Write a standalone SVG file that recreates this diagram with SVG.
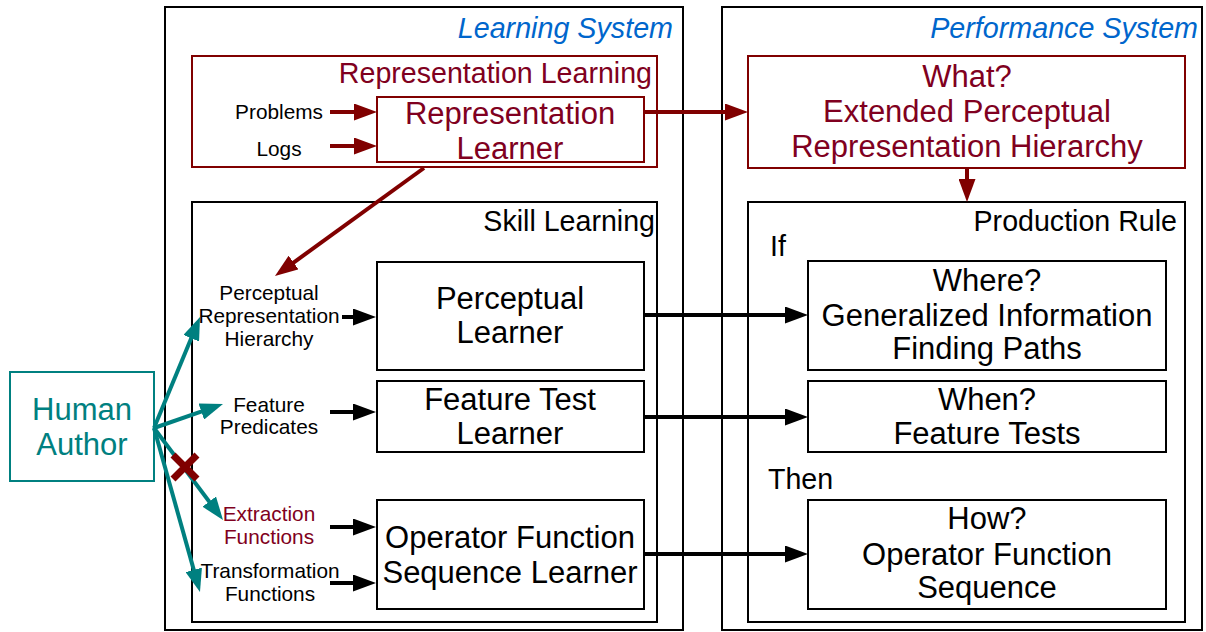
<svg xmlns="http://www.w3.org/2000/svg" width="1206" height="632" viewBox="0 0 1206 632">
<style>
text{font-family:"Liberation Sans",Arial,sans-serif;fill:#000}
.box{fill:none;stroke:#000;stroke-width:2}
.rbox{fill:none;stroke:#800000;stroke-width:2}
.tbox{fill:none;stroke:#008080;stroke-width:2}
.big{font-size:31px;text-anchor:middle}
.hdr{font-size:28.6px}
.sys{font-size:28.7px;font-style:italic;fill:#0066cc;text-anchor:end}
.sm{font-size:20.8px;text-anchor:middle}
.red{fill:#800020}
.teal{fill:#008080}
.bl{stroke:#000;stroke-width:4;fill:none}
.rl{stroke:#800000;stroke-width:4;fill:none}
.tl{stroke:#008080;stroke-width:4;fill:none}
</style>
<defs>
<marker id="ab" markerUnits="userSpaceOnUse" markerWidth="23" markerHeight="17" refX="12" refY="8.5" orient="auto"><path d="M0,0 L23,8.5 L0,17 z" fill="#000"/></marker>
<marker id="ar" markerUnits="userSpaceOnUse" markerWidth="23" markerHeight="17" refX="12" refY="8.5" orient="auto"><path d="M0,0 L23,8.5 L0,17 z" fill="#800000"/></marker>
<marker id="at" markerUnits="userSpaceOnUse" markerWidth="23" markerHeight="17" refX="12" refY="8.5" orient="auto"><path d="M0,0 L23,8.5 L0,17 z" fill="#008080"/></marker>
</defs>
<rect width="1206" height="632" fill="#fff"/>

<g id="learning-system">
<rect class="box" x="165" y="7" width="518" height="623"/>
<text class="sys" x="673" y="38">Learning System</text>
</g>
<g id="performance-system">
<rect class="box" x="722" y="7" width="480" height="623"/>
<text class="sys" x="1198" y="38">Performance System</text>
</g>
<g id="representation-learning">
<rect class="rbox" x="192" y="56" width="465" height="111"/>
<text class="hdr red" x="652" y="83" text-anchor="end">Representation Learning</text>
</g>
<g id="problems"><text class="sm" x="279" y="119">Problems</text></g>
<g id="logs"><text class="sm" x="279" y="156">Logs</text></g>
<g id="representation-learner">
<rect class="rbox" x="377" y="97" width="267" height="65"/>
<text class="big red" x="510" y="124">Representation</text>
<text class="big red" x="510" y="159">Learner</text>
</g>
<g id="extended-hierarchy">
<rect class="rbox" x="748" y="56" width="437" height="112"/>
<text class="big red" x="967" y="87">What?</text>
<text class="big red" x="967" y="122">Extended Perceptual</text>
<text class="big red" x="967" y="157">Representation Hierarchy</text>
</g>
<g id="skill-learning">
<rect class="box" x="192" y="202" width="465" height="420"/>
<text class="hdr" x="655" y="231" text-anchor="end">Skill Learning</text>
</g>
<g id="production-rule">
<rect class="box" x="748" y="202" width="437" height="420"/>
<text class="hdr" x="1177" y="231" text-anchor="end">Production Rule</text>
<text class="hdr" x="770" y="256">If</text>
<text class="hdr" x="768" y="489">Then</text>
</g>
<g id="perceptual-learner">
<rect class="box" x="377" y="262" width="267" height="108"/>
<text class="big" x="510" y="309">Perceptual</text>
<text class="big" x="510" y="343">Learner</text>
</g>
<g id="feature-test-learner">
<rect class="box" x="377" y="381" width="267" height="71"/>
<text class="big" x="510" y="410">Feature Test</text>
<text class="big" x="510" y="444">Learner</text>
</g>
<g id="operator-learner">
<rect class="box" x="377" y="500" width="267" height="109"/>
<text class="big" x="510" y="548">Operator Function</text>
<text class="big" x="510" y="583">Sequence Learner</text>
</g>
<g id="where">
<rect class="box" x="808" y="261" width="358" height="109"/>
<text class="big" x="987" y="291">Where?</text>
<text class="big" x="987" y="326">Generalized Information</text>
<text class="big" x="987" y="359">Finding Paths</text>
</g>
<g id="when">
<rect class="box" x="808" y="381" width="358" height="71"/>
<text class="big" x="987" y="410">When?</text>
<text class="big" x="987" y="444">Feature Tests</text>
</g>
<g id="how">
<rect class="box" x="808" y="500" width="358" height="109"/>
<text class="big" x="987" y="529">How?</text>
<text class="big" x="987" y="565">Operator Function</text>
<text class="big" x="987" y="598">Sequence</text>
</g>
<g id="perceptual-hierarchy-input">
<text class="sm" x="269" y="300">Perceptual</text>
<text class="sm" x="269" y="323">Representation</text>
<text class="sm" x="269" y="346">Hierarchy</text>
</g>
<g id="feature-predicates">
<text class="sm" x="269" y="412">Feature</text>
<text class="sm" x="269" y="434">Predicates</text>
</g>
<g id="extraction-functions">
<text class="sm red" x="269" y="521">Extraction</text>
<text class="sm red" x="269" y="544">Functions</text>
</g>
<g id="transformation-functions">
<text class="sm" x="270" y="578">Transformation</text>
<text class="sm" x="270" y="601">Functions</text>
</g>
<g id="human-author">
<rect class="tbox" x="10" y="372" width="144" height="109"/>
<text class="big teal" x="82" y="420">Human</text>
<text class="big teal" x="82" y="455">Author</text>
</g>

<g id="connectors">
<line class="rl" x1="330" y1="112" x2="366" y2="112" marker-end="url(#ar)"/>
<line class="rl" x1="330" y1="146" x2="366" y2="146" marker-end="url(#ar)"/>
<line class="rl" x1="644" y1="112" x2="737" y2="112" marker-end="url(#ar)"/>
<line class="rl" x1="967" y1="168" x2="967" y2="191" marker-end="url(#ar)"/>
<line class="rl" x1="424" y1="168" x2="283.9" y2="269.6" marker-end="url(#ar)"/>
<line class="bl" x1="342" y1="317" x2="365" y2="317" marker-end="url(#ab)"/>
<line class="bl" x1="330" y1="412" x2="365" y2="412" marker-end="url(#ab)"/>
<line class="bl" x1="330" y1="527" x2="365" y2="527" marker-end="url(#ab)"/>
<line class="bl" x1="330" y1="583" x2="365" y2="583" marker-end="url(#ab)"/>
<line class="bl" x1="644" y1="315" x2="797" y2="315" marker-end="url(#ab)"/>
<line class="bl" x1="644" y1="417" x2="797" y2="417" marker-end="url(#ab)"/>
<line class="bl" x1="644" y1="554" x2="797" y2="554" marker-end="url(#ab)"/>
<line class="tl" x1="154" y1="428" x2="195.8" y2="327.2" marker-end="url(#at)"/>
<line class="tl" x1="154" y1="428" x2="212.6" y2="407.6" marker-end="url(#at)"/>
<line class="tl" x1="154" y1="428" x2="216.4" y2="511.2" marker-end="url(#at)"/>
<line class="tl" x1="154" y1="428" x2="197" y2="581.4" marker-end="url(#at)"/>
<path d="M173,455 L197,479 M197,455 L173,479" stroke="#800000" stroke-width="7" fill="none"/>
</g>
</svg>
